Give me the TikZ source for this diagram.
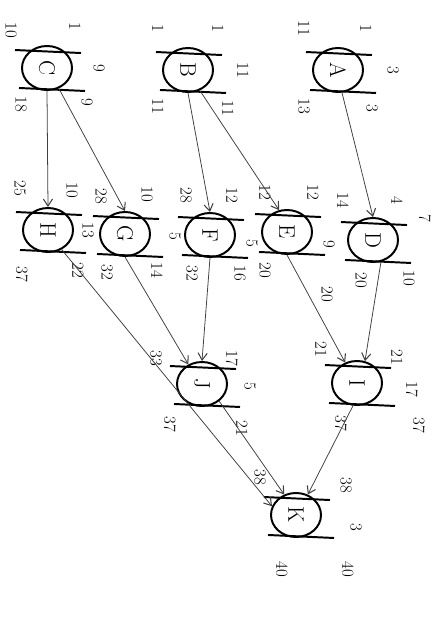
\documentclass[tikz,border=0pt]{standalone}
\usepackage{graphicx}
\usepackage{tikz}
\usetikzlibrary{shapes.geometric,arrows.meta}
\tikzset{act/.style={ellipse,draw,line width=2.8pt,minimum width=2.5cm,minimum height=2.2cm,inner sep=0pt,
		font=\fontsize{32}{34}\selectfont},
	bar/.style={line width=2.8pt},
	num/.style={rotate=-90,inner sep=1pt,font=\fontsize{24}{26}\selectfont},
	link/.style={draw,line width=1.1pt,black!75,
		-{Straight Barb[length=10pt,width=13pt,line width=1.5pt]}}}

\begin{document}
\begin{tikzpicture}[x=0.05cm,y=-0.05cm]
\useasboundingbox (0,0) rectangle (445,619);
% activities
\node [act] (a) at (338,70) {\rotatebox{-90}{A}};
\node [act] (b) at (188,70) {\rotatebox{-90}{B}};
\node [act] (c) at (47,68) {\rotatebox{-90}{C}};
\node [act] (d) at (373,240) {\rotatebox{-90}{D}};
\node [act] (e) at (287,232) {\rotatebox{-90}{E}};
\node [act] (f) at (210,235) {\rotatebox{-90}{F}};
\node [act] (g) at (125,234) {\rotatebox{-90}{G}};
\node [act] (h) at (48,230) {\rotatebox{-90}{H}};
\node [act] (i) at (357,383) {\rotatebox{-90}{I}};
\node [act] (j) at (202,384) {\rotatebox{-90}{J}};
\node [act] (k) at (296,515) {\rotatebox{-90}{K}};
% bars
\draw [bar] ([shift={(-32,5)}]a.north) -- ([shift={(34,8)}]a.north) ([shift={(-28,-3)}]a.south) -- ([shift={(38,0)}]a.south);
\draw [bar] ([shift={(-32,5)}]b.north) -- ([shift={(34,8)}]b.north) ([shift={(-28,-3)}]b.south) -- ([shift={(38,0)}]b.south);
\draw [bar] ([shift={(-32,5)}]c.north) -- ([shift={(34,8)}]c.north) ([shift={(-28,-3)}]c.south) -- ([shift={(38,0)}]c.south);
\draw [bar] ([shift={(-32,5)}]d.north) -- ([shift={(34,8)}]d.north) ([shift={(-28,-3)}]d.south) -- ([shift={(38,0)}]d.south);
\draw [bar] ([shift={(-32,5)}]e.north) -- ([shift={(34,8)}]e.north) ([shift={(-28,-3)}]e.south) -- ([shift={(38,0)}]e.south);
\draw [bar] ([shift={(-32,5)}]f.north) -- ([shift={(34,8)}]f.north) ([shift={(-28,-3)}]f.south) -- ([shift={(38,0)}]f.south);
\draw [bar] ([shift={(-32,5)}]g.north) -- ([shift={(34,8)}]g.north) ([shift={(-28,-3)}]g.south) -- ([shift={(38,0)}]g.south);
\draw [bar] ([shift={(-32,5)}]h.north) -- ([shift={(34,8)}]h.north) ([shift={(-28,-3)}]h.south) -- ([shift={(38,0)}]h.south);
\draw [bar] ([shift={(-32,5)}]i.north) -- ([shift={(34,8)}]i.north) ([shift={(-28,-3)}]i.south) -- ([shift={(38,0)}]i.south);
\draw [bar] ([shift={(-32,5)}]j.north) -- ([shift={(34,8)}]j.north) ([shift={(-28,-3)}]j.south) -- ([shift={(38,0)}]j.south);
\draw [bar] ([shift={(-32,5)}]k.north) -- ([shift={(34,8)}]k.north) ([shift={(-28,-3)}]k.south) -- ([shift={(38,0)}]k.south);
% times
\path (a.center) ++(-34,-42) node [num] (a1) {11} (a.center) ++(28,-42) node [num] (a2) {1}
  (a.center) ++(55,0) node [num] (a3) {3} (a.center) ++(-34,36) node [num] (a4) {13} (a.center) ++(34,38) node [num] (a5) {3};
\path (b.center) ++(-30,-42) node [num] (b1) {1} (b.center) ++(30,-42) node [num] (b2) {1}
  (b.center) ++(55,0) node [num] (b3) {11} (b.center) ++(-30,36) node [num] (b4) {11} (b.center) ++(40,38) node [num] (b5) {11};
\path (c.center) ++(-36,-38) node [num] (c1) {10} (c.center) ++(28,-42) node [num] (c2) {1}
  (c.center) ++(52,0) node [num] (c3) {9} (c.center) ++(-26,36) node [num] (c4) {18} (c.center) ++(40,34) node [num] (c5) {9};
\path (d.center) ++(-30,-40) node [num] (d1) {14} (d.center) ++(24,-40) node [num] (d2) {4}
  (d.center) ++(52,-22) node [num] (d3) {7} (d.center) ++(-12,40) node [num] (d4) {20} (d.center) ++(36,38) node [num] (d5) {10};
\path (e.center) ++(-22,-40) node [num] (e1) {12} (e.center) ++(26,-40) node [num] (e2) {12}
  (e.center) ++(42,12) node [num] (e3) {9} (e.center) ++(-22,38) node [num] (e4) {20} (e.center) ++(40,62) node [num] (e5) {20};
\path (f.center) ++(-24,-40) node [num] (f1) {28} (f.center) ++(22,-40) node [num] (f2) {12}
  (f.center) ++(42,8) node [num] (f3) {5} (f.center) ++(-18,38) node [num] (f4) {32} (f.center) ++(30,38) node [num] (f5) {16};
\path (g.center) ++(-24,-38) node [num] (g1) {28} (g.center) ++(22,-40) node [num] (g2) {10}
  (g.center) ++(50,2) node [num] (g3) {5} (g.center) ++(-18,38) node [num] (g4) {32} (g.center) ++(32,36) node [num] (g5) {14};
\path (h.center) ++(-28,-42) node [num] (h1) {25} (h.center) ++(24,-40) node [num] (h2) {10}
  (h.center) ++(40,0) node [num] (h3) {13} (h.center) ++(-26,44) node [num] (h4) {37} (h.center) ++(30,40) node [num] (h5) {22};
\path (i.center) ++(-36,-34) node [num] (i1) {21} (i.center) ++(40,-26) node [num] (i2) {21}
  (i.center) ++(55,6) node [num] (i3) {17} (i.center) ++(-16,40) node [num] (i4) {37} (i.center) ++(62,42) node [num] (i5) {37};
\path (j.center) ++(-46,-26) node [num] (j1) {33} (j.center) ++(30,-26) node [num] (j2) {17}
  (j.center) ++(48,2) node [num] (j3) {5} (j.center) ++(-32,40) node [num] (j4) {37} (j.center) ++(40,44) node [num] (j5) {21};
\path (k.center) ++(-36,-38) node [num] (k1) {38} (k.center) ++(50,-30) node [num] (k2) {38}
  (k.center) ++(60,12) node [num] (k3) {3} (k.center) ++(-14,54) node [num] (k4) {40} (k.center) ++(52,54) node [num] (k5) {40};
% precedences
\draw [link] (a.-80) -- (d.north);
\draw [link] (b.-60) -- (e.110);
\draw [link] (b.south) -- (f.north);
\draw [link] (c.-60) -- (g.north);
\draw [link] (c.south) -- (h.north);
\draw [link] (d.-70) -- (i.70);
\draw [link] (e.south) -- (i.120);
\draw [link] (f.south) -- (j.north);
\draw [link] (g.south) -- (j.125);
\draw [link] (h.-55) -- (k.160);
\draw [link] (i.-100) -- (k.60);
\draw [link] (j.-45) -- (k.120);
\end{tikzpicture}
\end{document}
